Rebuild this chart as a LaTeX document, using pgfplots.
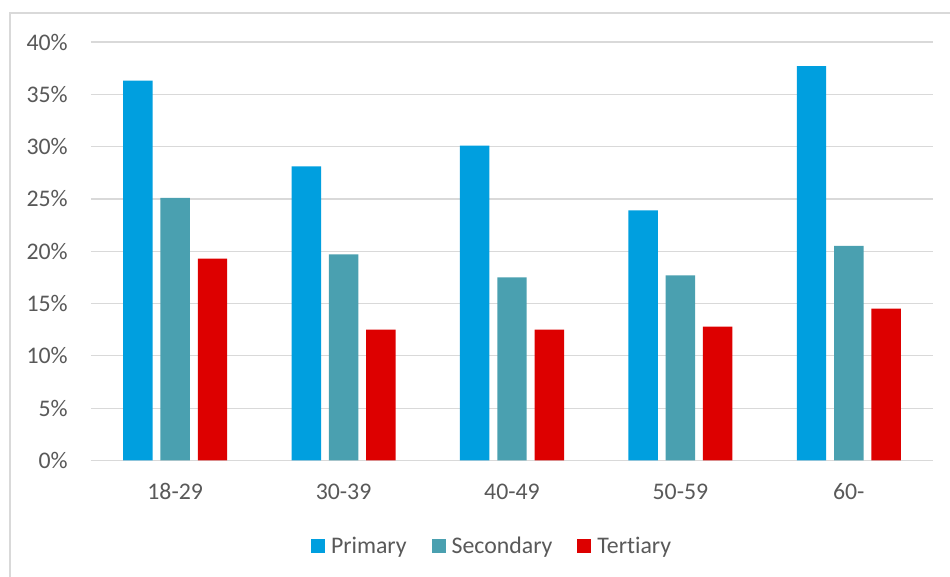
\documentclass[border=0pt]{standalone}
\usepackage{pgfplots}
\pgfplotsset{compat=1.18}
\usepackage{fontspec}
\setmainfont{Carlito}[Ligatures={NoCommon}]
\definecolor{cPrim}{RGB}{0,159,223}
\definecolor{cSec}{RGB}{74,160,176}
\definecolor{cTer}{RGB}{221,0,0}
\definecolor{cText}{RGB}{89,89,89}
\definecolor{cGrid}{RGB}{217,217,217}
\newcommand\cf{\fontsize{17.85pt}{21pt}\selectfont}
\begin{document}
\begin{tikzpicture}
\path[use as bounding box] (-68.25pt,-86.7pt) rectangle (644.25pt,345.3pt);
\fill[white] (-68.25pt,-86.7pt) rectangle (644.25pt,345.3pt);
\draw[cGrid, line width=0.9pt] (648pt,335.55pt) -- (-60.75pt,335.55pt) -- (-60.75pt,-95pt);
\begin{axis}[
  scale only axis,
  width=631.5pt, height=313.8pt,
  xmin=-0.5, xmax=4.5, ymin=0, ymax=40,
  axis x line=bottom,
  axis y line=left,
  x axis line style={cGrid, line width=0.9pt, -},
  y axis line style={draw=none, -},
  xtick={0,1,2,3,4},
  xticklabels={18-29,30-39,40-49,50-59,60-},
  ytick={0,5,10,15,20,25,30,35,40},
  yticklabels={0\%,5\%,10\%,15\%,20\%,25\%,30\%,35\%,40\%},
  major tick length=0pt,
  tick style={draw=none},
  ymajorgrids,
  grid style={cGrid, line width=0.9pt},
  xticklabel style={font=\cf, text=cText, inner sep=0pt, anchor=north, yshift=-17.25pt},
  yticklabel style={font=\cf, text=cText, inner sep=0pt, anchor=east, xshift=-17.25pt},
  ybar, bar width=0.175,
  legend columns=-1,
  legend style={at={(0.2613,-0.2046)}, anchor=west, draw=none, fill=none,
    inner sep=0pt, outer sep=0pt, font=\cf, text=cText,
    nodes={inner sep=0pt},
    /tikz/every odd column/.append style={column sep=4.5pt},
    /tikz/every even column/.append style={column sep=18.75pt}},
  legend image code/.code={\fill[#1] (0pt,-5.25pt) rectangle (10.5pt,5.25pt);},
]
\addplot[fill=cPrim, draw=none, bar shift=-0.2215] coordinates {(0,36.3) (1,28.1) (2,30.1) (3,23.9) (4,37.7)};
\addplot[fill=cSec, draw=none, bar shift=0] coordinates {(0,25.1) (1,19.7) (2,17.5) (3,17.7) (4,20.5)};
\addplot[fill=cTer, draw=none, bar shift=0.2215] coordinates {(0,19.3) (1,12.5) (2,12.5) (3,12.8) (4,14.5)};
\legend{Primary,Secondary,Tertiary}
\end{axis}
\end{tikzpicture}
\end{document}
